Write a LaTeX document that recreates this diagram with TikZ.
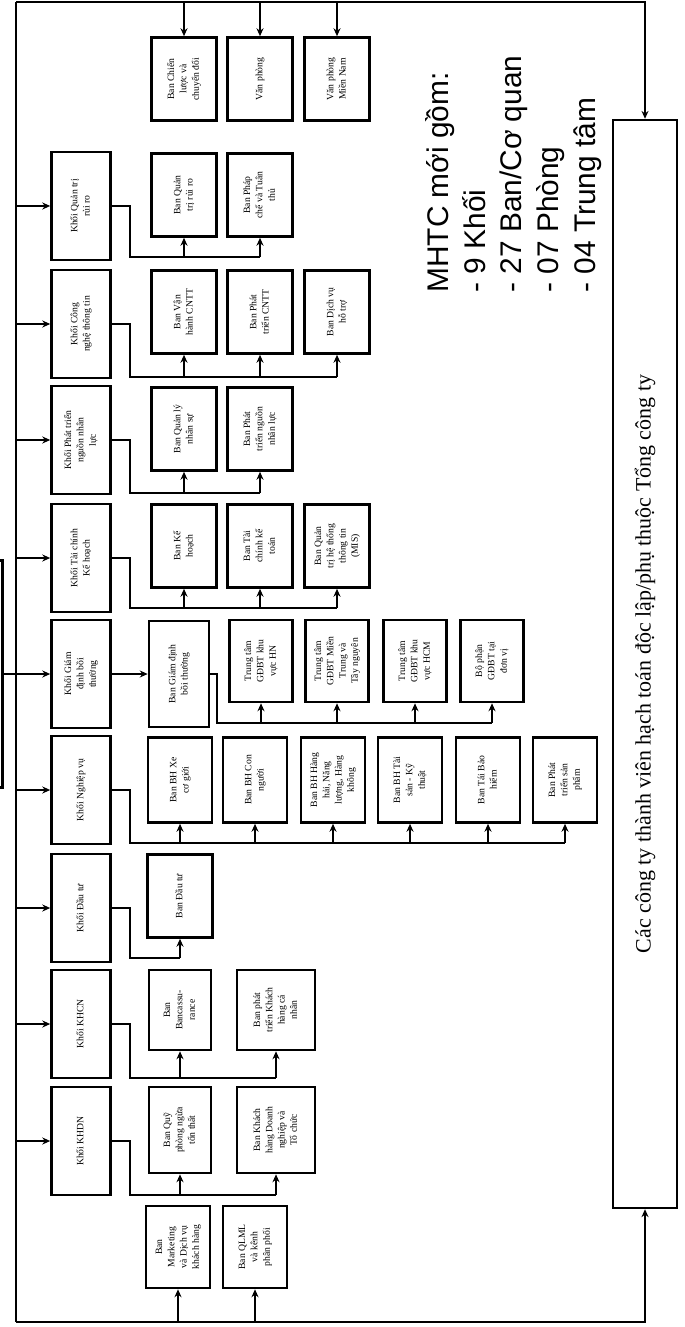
\documentclass[tikz,border=0pt]{standalone}
\usepackage{fontspec}
\setmainfont{Liberation Serif}
\newfontfamily\notefont{Liberation Sans}
\usetikzlibrary{arrows.meta}
\newcommand{\vtxt}[1]{\rotatebox{90}{\begin{tabular}{@{}c@{}}#1\end{tabular}}}

\begin{document}
\begin{tikzpicture}[x=0.02cm, y=-0.02cm, >={Stealth[length=4.5pt,width=4pt]},
    box/.style={draw, line width=1.5pt, inner sep=1pt, font=\fontsize{5.5}{7}\selectfont},
    khoi/.style={box, minimum width=1.18cm, minimum height=2.16cm},
    ban/.style={box, minimum width=1.3cm, minimum height=1.66cm},
    conn/.style={line width=0.8pt}]
    \useasboundingbox (0,0) rectangle (684,1327);
    \clip (0,0) rectangle (684,1327);

    % Nodes
    \node[box, minimum width=2.1cm, minimum height=4.54cm] (tgd) at (-50,674) {};
    \node[ban] (cl) at (184,79) {\vtxt{Ban Chiến\\lược và\\chuyển đổi}};
    \node[ban] (vp) at (260,79) {\vtxt{Văn phòng}};
    \node[ban] (vpmn) at (337,79) {\vtxt{Văn phòng\\Miền Nam}};

    \node[khoi] (kqtrr) at (81,206) {\vtxt{Khối Quản trị\\rủi ro}};
    \node[khoi] (kcntt) at (81,324) {\vtxt{Khối Công\\nghệ thông tin}};
    \node[khoi] (knnl) at (81,440) {\vtxt{Khối Phát triển\\nguồn nhân\\lực}};
    \node[khoi] (ktckh) at (81,558) {\vtxt{Khối Tài chính\\Kế hoạch}};
    \node[khoi] (kgdbt) at (81,674) {\vtxt{Khối Giám\\định bồi\\thường}};
    \node[khoi] (knv) at (81,790) {\vtxt{Khối Nghiệp vụ}};
    \node[khoi] (kdt) at (81,908) {\vtxt{Khối Đầu tư}};
    \node[khoi] (kkhcn) at (81,1024) {\vtxt{Khối KHCN}};
    \node[khoi] (kkhdn) at (81,1141) {\vtxt{Khối KHDN}};

    \node[ban] (qtrr) at (184,195) {\vtxt{Ban Quản\\trị rủi ro}};
    \node[ban] (phapche) at (260,195) {\vtxt{Ban Pháp\\chế và Tuân\\thủ}};

    \node[ban] (vhcntt) at (184,312) {\vtxt{Ban Vận\\hành CNTT}};
    \node[ban] (ptcntt) at (260,312) {\vtxt{Ban Phát\\triển CNTT}};
    \node[ban] (dvht) at (337,312) {\vtxt{Ban Dịch vụ\\hỗ trợ}};

    \node[ban] (qlns) at (184,429) {\vtxt{Ban Quản lý\\nhân sự}};
    \node[ban] (ptnnl) at (260,429) {\vtxt{Ban Phát\\triển nguồn\\nhân lực}};

    \node[ban] (kehoach) at (184,546) {\vtxt{Ban Kế\\hoạch}};
    \node[ban] (tckt) at (260,546) {\vtxt{Ban Tài\\chính kế\\toán}};
    \node[ban] (mis) at (337,546) {\vtxt{Ban Quản\\trị hệ thống\\thông tin\\(MIS)}};

    \node[box, minimum width=1.2cm, minimum height=2.12cm] (gdbt) at (179,674) {\vtxt{Ban Giám định\\bồi thường}};
    \node[ban, minimum width=1.26cm, minimum height=1.64cm] (tthn) at (261,661) {\vtxt{Trung tâm\\GĐBT khu\\vực HN}};
    \node[ban, minimum width=1.26cm, minimum height=1.64cm] (ttmt) at (337,661) {\vtxt{Trung tâm\\GĐBT Miền\\Trung và\\Tây nguyên}};
    \node[ban, minimum width=1.26cm, minimum height=1.64cm] (tthcm) at (415,661) {\vtxt{Trung tâm\\GĐBT khu\\vực HCM}};
    \node[ban, minimum width=1.26cm, minimum height=1.64cm] (bpdv) at (492,661) {\vtxt{Bộ phận\\GĐBT tại\\đơn vị}};

    \node[ban, minimum width=1.28cm, minimum height=1.7cm] (xcg) at (180,780) {\vtxt{Ban BH Xe\\cơ giới}};
    \node[ban, minimum width=1.28cm, minimum height=1.7cm] (cn) at (255,780) {\vtxt{Ban BH Con\\người}};
    \node[ban, minimum width=1.28cm, minimum height=1.7cm] (hh) at (333,780) {\vtxt{Ban BH Hàng\\hải, Năng\\lượng, Hàng\\không}};
    \node[ban, minimum width=1.28cm, minimum height=1.7cm] (tskt) at (410,780) {\vtxt{Ban BH Tài\\sản - Kỹ\\thuật}};
    \node[ban, minimum width=1.28cm, minimum height=1.7cm] (tbh) at (488,780) {\vtxt{Ban Tái Bảo\\hiểm}};
    \node[ban, minimum width=1.28cm, minimum height=1.7cm] (ptsp) at (565,780) {\vtxt{Ban Phát\\triển sản\\phẩm}};

    \node[ban] (dt) at (180,896) {\vtxt{Ban Đầu tư}};

    \node[ban, minimum width=1.24cm, minimum height=1.6cm] (banca) at (180,1010) {\vtxt{Ban\\Bancassu-\\rance}};
    \node[ban, minimum width=1.56cm, minimum height=1.6cm] (ptkhcn) at (276,1010) {\vtxt{Ban phát\\triển Khách\\hàng cá\\nhân}};

    \node[ban, minimum width=1.24cm, minimum height=1.72cm] (quy) at (180,1130) {\vtxt{Ban Quỹ\\phòng ngừa\\tổn thất}};
    \node[ban, minimum width=1.56cm, minimum height=1.72cm] (khdntc) at (276,1130) {\vtxt{Ban Khách\\hàng Doanh\\nghiệp và\\Tổ chức}};

    \node[ban, minimum width=1.28cm, minimum height=1.64cm] (mkt) at (178,1247) {\vtxt{Ban\\Marketing\\và Dịch vụ\\khách hàng}};
    \node[ban, minimum width=1.28cm, minimum height=1.64cm] (qlml) at (255,1247) {\vtxt{Ban QLML\\và kênh\\phân phối}};

    \node[box, minimum width=1.28cm, minimum height=21.76cm, font=\fontsize{12.5}{15}\selectfont] (ctv) at (645,664)
        {\rotatebox{90}{Các công ty thành viên hạch toán độc lập/phụ thuộc Tổng công ty}};

    \node[anchor=south west, inner sep=0pt, font=\notefont\fontsize{17}{21}\selectfont] (mhtc) at (422,293)
        {\rotatebox{90}{\begin{tabular}{@{}l@{}}MHTC mới gồm:\\- 9 Khối\\- 27 Ban/Cơ quan\\- 07 Phòng\\- 04 Trung tâm\end{tabular}}};

    % Edges
    \coordinate (top) at (16,2);
    \coordinate (bot) at (16,1322);
    \draw[conn] (top) -- (bot);
    \draw[conn, ->] (top) -| (ctv.north);
    \draw[conn, ->] (bot) -| (ctv.south);
    \draw[conn, ->] (tgd.east) -- (kgdbt.west);
    \foreach \n in {cl, vp, vpmn}
        \draw[conn, ->] (top -| \n.north) -- (\n.north);
    \foreach \n in {kqtrr, kcntt, knnl, ktckh, knv, kdt, kkhcn, kkhdn}
        \draw[conn, ->] (top |- \n.west) -- (\n.west);
    \foreach \n in {mkt, qlml}
        \draw[conn, ->] (bot -| \n.south) -- (\n.south);

    % Buses
    \coordinate (b1) at (130,257);
    \draw[conn] (kqtrr.east) -| (b1) -- (b1 -| phapche.south);
    \foreach \n in {qtrr, phapche}
        \draw[conn, ->] (b1 -| \n.south) -- (\n.south);

    \coordinate (b2) at (130,377);
    \draw[conn] (kcntt.east) -| (b2) -- (b2 -| dvht.south);
    \foreach \n in {vhcntt, ptcntt, dvht}
        \draw[conn, ->] (b2 -| \n.south) -- (\n.south);

    \coordinate (b3) at (130,493);
    \draw[conn] (knnl.east) -| (b3) -- (b3 -| ptnnl.south);
    \foreach \n in {qlns, ptnnl}
        \draw[conn, ->] (b3 -| \n.south) -- (\n.south);

    \coordinate (b4) at (130,608);
    \draw[conn] (ktckh.east) -| (b4) -- (b4 -| mis.south);
    \foreach \n in {kehoach, tckt, mis}
        \draw[conn, ->] (b4 -| \n.south) -- (\n.south);

    \draw[conn, ->] (kgdbt.east) -- (gdbt.west);
    \coordinate (b5) at (217,723);
    \draw[conn] (gdbt.east) -| (b5) -- (b5 -| bpdv.south);
    \foreach \n in {tthn, ttmt, tthcm, bpdv}
        \draw[conn, ->] (b5 -| \n.south) -- (\n.south);

    \coordinate (b6) at (130,843);
    \draw[conn] (knv.east) -| (b6) -- (b6 -| ptsp.south);
    \foreach \n in {xcg, cn, hh, tskt, tbh, ptsp}
        \draw[conn, ->] (b6 -| \n.south) -- (\n.south);

    \coordinate (b7) at (130,958);
    \draw[conn] (kdt.east) -| (b7) -- (b7 -| dt.south);
    \draw[conn, ->] (b7 -| dt.south) -- (dt.south);

    \coordinate (b8) at (130,1078);
    \draw[conn] (kkhcn.east) -| (b8) -- (b8 -| ptkhcn.south);
    \foreach \n in {banca, ptkhcn}
        \draw[conn, ->] (b8 -| \n.south) -- (\n.south);

    \coordinate (b9) at (130,1195);
    \draw[conn] (kkhdn.east) -| (b9) -- (b9 -| khdntc.south);
    \foreach \n in {quy, khdntc}
        \draw[conn, ->] (b9 -| \n.south) -- (\n.south);
\end{tikzpicture}
\end{document}
